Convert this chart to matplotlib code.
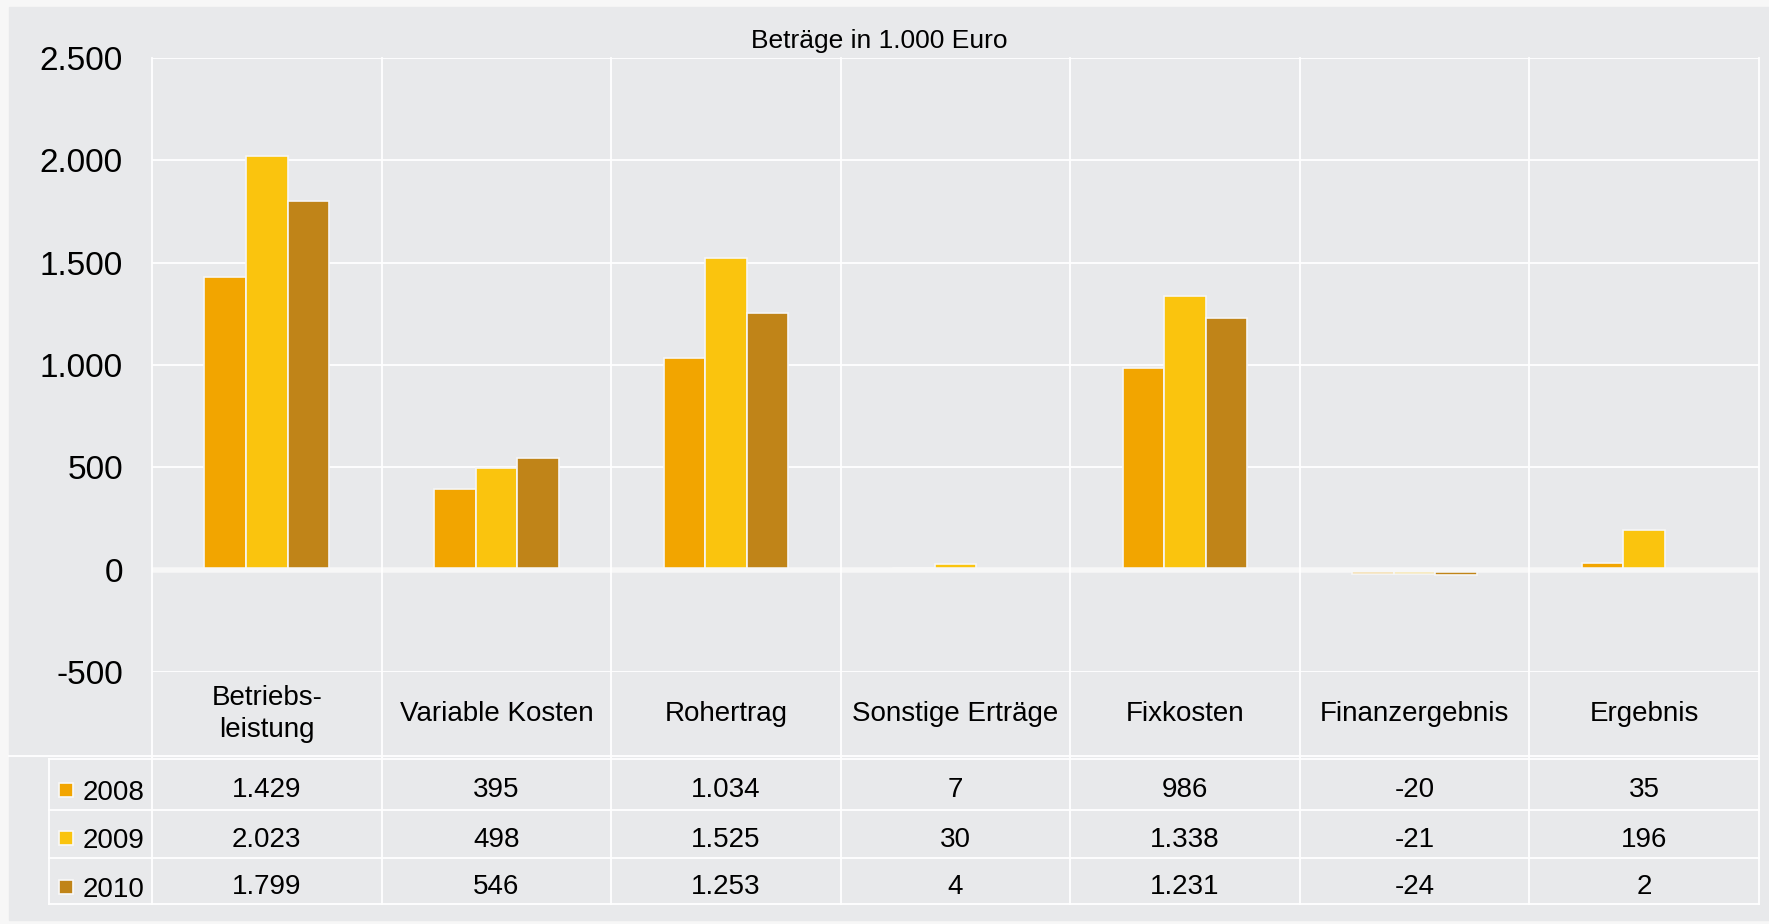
import matplotlib
matplotlib.use('Agg')
import matplotlib.pyplot as plt
from matplotlib.patches import Rectangle
from matplotlib.lines import Line2D
from matplotlib import transforms
import numpy as np

plt.rcParams['font.family'] = ['Liberation Sans', 'DejaVu Sans']

# data (Beträge in 1.000 Euro)
categories = ['Betriebs-\nleistung', 'Variable Kosten', 'Rohertrag', 'Sonstige Erträge',
              'Fixkosten', 'Finanzergebnis', 'Ergebnis']
years = ['2008', '2009', '2010']
v2008 = [1429, 395, 1034, 7, 986, -20, 35]
v2009 = [2023, 498, 1525, 30, 1338, -21, 196]
v2010 = [1799, 546, 1253, 4, 1231, -24, 2]
series = [v2008, v2009, v2010]
colors = ['#F2A500', '#FAC40E', '#C08418']
yticks = [-500, 0, 500, 1000, 1500, 2000, 2500]


def de(v):
    # german thousands separator
    return f"{v:,}".replace(',', '.')


W, H = 1769, 924
fig = plt.figure(figsize=(W / 100, H / 100), dpi=100)
fig.patch.set_facecolor('#f7f7f7')


def fx(p):
    return p / W


def fy(p):
    return 1 - p / H


# grey panel
fig.add_artist(Rectangle((fx(9), fy(920)), fx(1769) - fx(9), fy(7) - fy(920),
                         transform=fig.transFigure, color='#e8e9eb', zorder=0))

L, R, T, B = 152, 1759, 58, 672
ax = fig.add_axes([fx(L), fy(B), (R - L) / W, (B - T) / H])
ax.set_facecolor('none')
for s in ax.spines.values():
    s.set_visible(False)

x = np.arange(len(categories))
bw = 0.181
for i, vals in enumerate(series):
    ax.bar(x + (i - 1) * bw, vals, bw, color=colors[i], edgecolor='#f6f6f6',
           linewidth=1.2, zorder=2)

ax.set_xlim(-0.5, len(categories) - 0.5)
ax.set_ylim(-500, 2500)
ax.set_yticks(yticks)
ax.set_yticklabels([de(v) for v in yticks], fontsize=24)
ax.set_xticks([])
ax.tick_params(axis='y', length=0, pad=21)
ax.yaxis.grid(True, color='white', lw=1.3, zorder=1)
ax.set_axisbelow(True)
ax.axhline(0, color='#f7f7f7', lw=4, zorder=3)  # zero line

fig.text(fx(879), fy(48), 'Beträge in 1.000 Euro', ha='center', va='baseline', fontsize=19)

# vertical grid lines run through the label row and the table
blend = transforms.blended_transform_factory(ax.transData, fig.transFigure)
for k in range(len(categories) + 1):
    fig.add_artist(Line2D([k - 0.5, k - 0.5], [fy(T), fy(904)], transform=blend,
                          color='white', lw=1.3, zorder=1))

# category labels
for i, c in enumerate(categories):
    ax.text(i, fy(714), c, transform=blend, ha='center', va='center',
            fontsize=20, linespacing=1.33)

# table lines
fig.add_artist(Line2D([fx(9), fx(R)], [fy(756), fy(756)], color='white', lw=1.3))
for yy in [759, 810, 858, 904]:
    fig.add_artist(Line2D([fx(49), fx(R)], [fy(yy), fy(yy)], color='white', lw=1.3))
fig.add_artist(Line2D([fx(49), fx(49)], [fy(759), fy(904)], color='white', lw=1.3))

# table contents
val_base = [797, 847, 894]
year_base = [800, 848, 897]
sq_mid = [790, 838, 887]
for r, vals in enumerate(series):
    fig.add_artist(Rectangle((fx(59), fy(sq_mid[r] + 7)), 14 / W, 14 / H,
                             transform=fig.transFigure, facecolor=colors[r],
                             edgecolor='#f8f8f8', lw=1.2))
    fig.text(fx(83), fy(year_base[r]), years[r], ha='left', va='baseline', fontsize=20)
    for i, v in enumerate(vals):
        ax.text(i, fy(val_base[r]), de(v), transform=blend, ha='center',
                va='baseline', fontsize=20)

fig.savefig('out.png', dpi=100, facecolor=fig.get_facecolor())
